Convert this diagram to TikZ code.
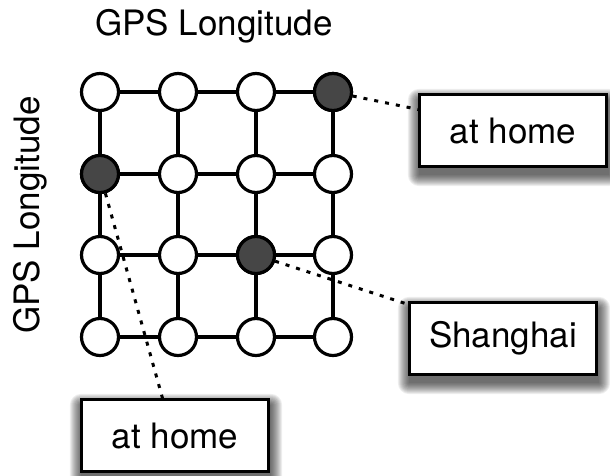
\documentclass[tikz,border=0pt]{standalone}
\usepackage{fontspec}
\setmainfont{TeX Gyre Heros}
\usetikzlibrary{calc,backgrounds}
\definecolor{darknode}{RGB}{70,70,70}
\begin{document}
\begin{tikzpicture}[x=1pt,y=-1pt,
  cell/.style={circle,draw=black,line width=3.2pt,fill=white,minimum size=37pt,inner sep=0pt},
  hit/.style={cell,fill=darknode},
  grid line/.style={line width=3.2pt},
  lbl/.style={font=\fontsize{35}{42}\selectfont},
  tag/.style={rectangle,draw=black,line width=3.2pt,fill=white,minimum width=187pt,minimum height=72pt,inner sep=0pt,
    font=\fontsize{35}{42}\selectfont},
  link/.style={line width=3pt,dash pattern=on 4pt off 7pt},
  shade layer/.style={fill=black,opacity=0.065}
]
\useasboundingbox (0,0) rectangle (610,475);
\node[lbl] (title) at (214,26) {GPS Longitude};
\node[lbl,rotate=90] (side) at (30,215) {GPS Longitude};
% grid nodes
\foreach \r/\yy in {0/92,1/174,2/255,3/337}{
  \foreach \c/\xx in {0/100,1/178,2/256,3/333}{
    \coordinate (p\r\c) at (\xx,\yy);
  }
}
\foreach \r in {0,...,3}{
  \draw[grid line] (p\r0) -- (p\r1) -- (p\r2) -- (p\r3);
  \draw[grid line] (p0\r) -- (p1\r) -- (p2\r) -- (p3\r);
}
\foreach \r in {0,...,3}{
  \foreach \c in {0,...,3}{
    \node[cell] (n\r\c) at (p\r\c) {};
  }
}
\node[hit] (n03) at (p03) {};
\node[hit] (n10) at (p10) {};
\node[hit] (n22) at (p22) {};
% links
\draw[link] (n03) -- (421,110);
\draw[link] (n22) -- (410,305);
\draw[link] (n10) -- (163,400);
% boxes
\node[tag] (b1) at (513,130.5) {at home};
\node[tag] (b2) at (503,338.5) {Shanghai};
\node[tag] (b3) at (175,435.5) {at home};
% shadows
\begin{scope}[on background layer]
\foreach \b in {b1,b2,b3}{
  \foreach \e in {0,...,11}{
    \fill[shade layer,rounded corners=\e pt] ($(\b.north west)+(-\e+1,-\e+7)$) rectangle ($(\b.south east)+(\e+1,\e+7)$);
  }
}
\end{scope}
\end{tikzpicture}
\end{document}
